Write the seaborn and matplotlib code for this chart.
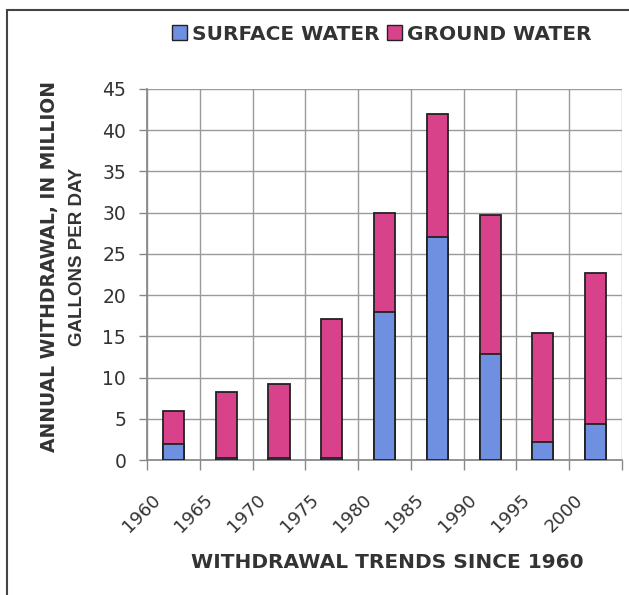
import matplotlib
matplotlib.use("Agg")
import matplotlib.pyplot as plt
import matplotlib.patches as mpatches
import matplotlib.transforms as mtransforms
import seaborn as sns
import pandas as pd
import numpy as np

years = ["1960", "1965", "1970", "1975", "1980", "1985", "1990", "1995", "2000"]
surface = [2.0, 0.3, 0.3, 0.3, 18.0, 27.0, 12.9, 2.2, 4.4]
ground = [4.0, 8.0, 8.9, 16.8, 12.0, 15.0, 16.8, 13.2, 18.3]
yticks = [0, 5, 10, 15, 20, 25, 30, 35, 40, 45]

blue = "#6f8fe0"
pink = "#d8428a"
txt = "#333333"

sns.set_theme(style="white")
plt.rcParams["font.family"] = ["DejaVu Sans"]

df = pd.DataFrame({"year": years, "surface": surface, "ground": ground})
df["total"] = df["surface"] + df["ground"]

fig = plt.figure(figsize=(6.29, 5.95), dpi=100)
ax = fig.add_axes([147 / 629, 1 - 460 / 595, 475 / 629, 371 / 595])

sns.barplot(data=df, x="year", y="total", color=pink, edgecolor="#222222",
            linewidth=1.3, width=0.4, saturation=1, ax=ax, zorder=3)
sns.barplot(data=df, x="year", y="surface", color=blue, edgecolor="#222222",
            linewidth=1.3, width=0.4, saturation=1, ax=ax, zorder=4)

n = len(years)
ax.set_xlim(-0.5, n - 0.5)
ax.set_ylim(0, 45)
ax.set_yticks(yticks)
ax.set_yticklabels([str(v) for v in yticks], fontsize=13.5, color=txt)

# category labels: rotated, drawn at the category positions with an offset
ax.set_xticks(np.arange(n))
ax.set_xticklabels([])
ax.tick_params(axis="x", which="major", length=0, pad=0)
offset = mtransforms.ScaledTranslation(-16 / 100, -37 / 100, fig.dpi_scale_trans)
for i, lab in enumerate(years):
    ax.text(i, 0, lab, transform=ax.get_xaxis_transform() + offset, rotation=45,
            rotation_mode="anchor", ha="right", va="center", fontsize=13, color=txt,
            clip_on=False)

ax.set_xticks(np.arange(n + 1) - 0.5, minor=True)
ax.tick_params(axis="x", which="minor", length=7, width=1, color="#888888", direction="out", bottom=True)
ax.tick_params(axis="y", which="major", length=6, width=1, color="#888888", direction="out", left=True, pad=9)
ax.grid(True, which="minor", axis="x", color="#9a9a9a", linewidth=1, zorder=0)
ax.grid(True, which="major", axis="y", color="#9a9a9a", linewidth=1, zorder=0)
ax.set_axisbelow(True)

for s in ["top", "right"]:
    ax.spines[s].set_visible(False)
ax.spines["left"].set_color("#888888")
ax.spines["bottom"].set_color("#888888")

ax.set_xlabel("")
ax.set_ylabel("")

fig.text(387 / 629, 1 - 562 / 595, "WITHDRAWAL TRENDS SINCE 1960", ha="center", va="center",
         fontsize=14.5, fontweight="bold", color=txt)

# y label (two lines)
t1 = fig.text(50 / 629, 1 - 452 / 595, "ANNUAL WITHDRAWAL, IN MILLION", rotation=90,
              ha="center", va="bottom", fontsize=13.5, fontweight="bold", color=txt)
clip = mpatches.Rectangle((0, 0), 1, 1 - 82 / 595, transform=fig.transFigure, visible=False)
fig.add_artist(clip)
t1.set_clip_path(clip)
fig.text(77 / 629, 1 - 257 / 595, "GALLONS PER DAY", rotation=90,
         ha="center", va="center", fontsize=13.5, fontweight="bold", color=txt,
         family=["Liberation Sans", "DejaVu Sans"])

handles = [mpatches.Patch(facecolor=blue, edgecolor="#222222", linewidth=1, label="SURFACE WATER"),
           mpatches.Patch(facecolor=pink, edgecolor="#222222", linewidth=1, label="GROUND WATER")]
leg = fig.legend(handles=handles, loc="center", bbox_to_anchor=(382 / 629, 1 - 34 / 595), ncol=2,
                 frameon=False, fontsize=14.5, handlelength=0.75, handleheight=0.75,
                 handletextpad=0.25, columnspacing=0.35, borderpad=0)
for t in leg.get_texts():
    t.set_fontweight("bold")
    t.set_color(txt)

# outer frame
frame = mpatches.Rectangle((7 / 629, -0.1), 1.2, 1 - 10 / 595 + 0.1, transform=fig.transFigure,
                           fill=False, edgecolor="#444444", linewidth=1.5)
fig.add_artist(frame)

fig.savefig("out.png", dpi=100)
